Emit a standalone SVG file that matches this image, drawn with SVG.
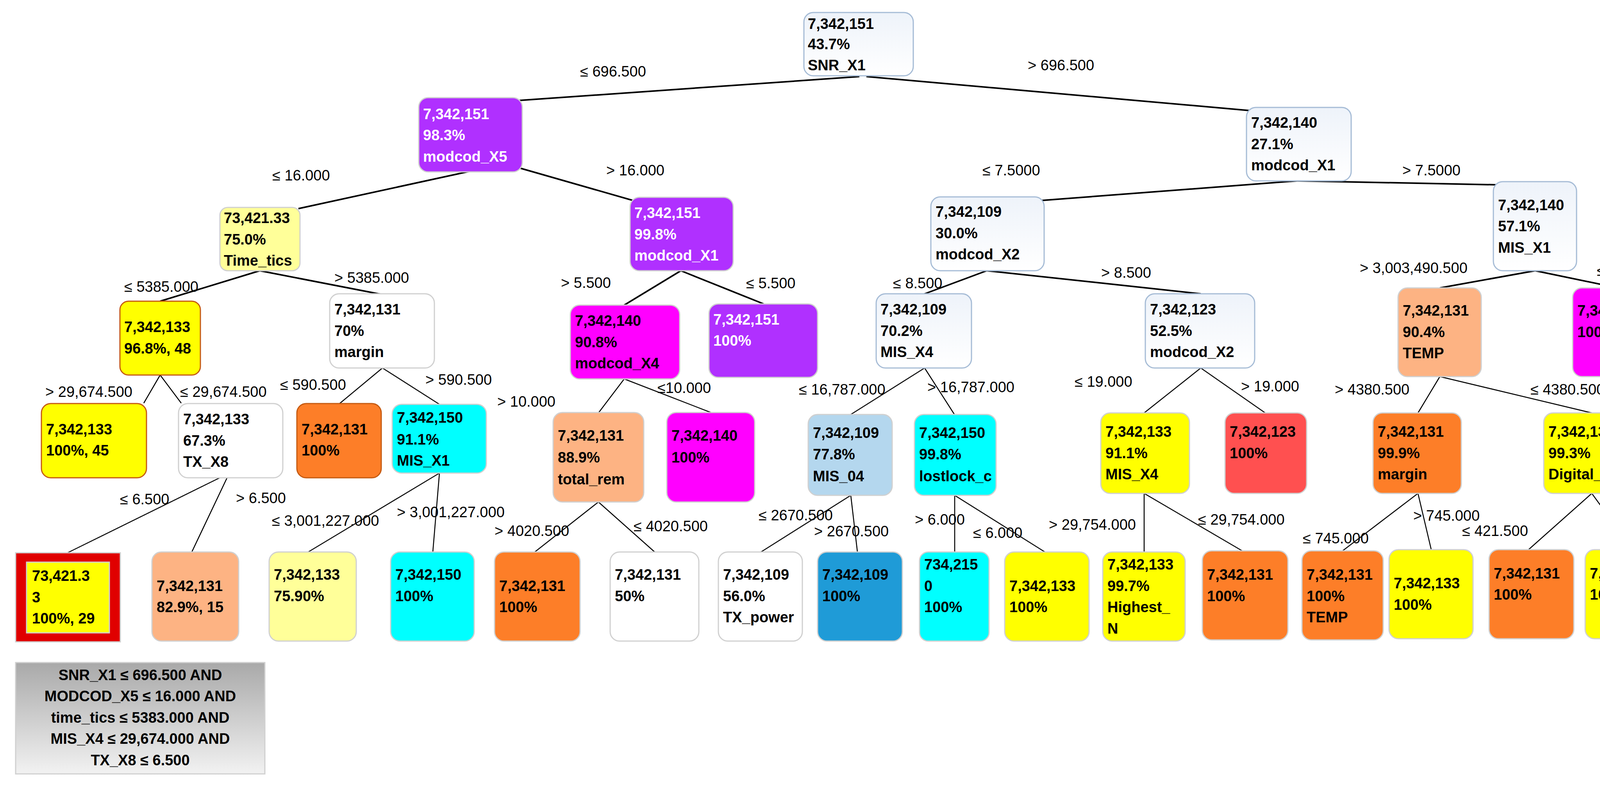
<svg xmlns="http://www.w3.org/2000/svg" width="4436" height="2012" viewBox="0 0 4436 2012">
<defs>
<linearGradient id="wg" x1="0" y1="0" x2="0" y2="1"><stop offset="0" stop-color="#eef3fa"/><stop offset="1" stop-color="#ffffff"/></linearGradient>
<linearGradient id="gg" x1="0" y1="0" x2="0" y2="1"><stop offset="0" stop-color="#a9a9a9"/><stop offset="1" stop-color="#f2f2f2"/></linearGradient>
</defs>
<style>
text{font-family:"Liberation Sans",Arial,sans-serif;font-size:38px;font-weight:bold;fill:#000}
.w text{fill:#fff}
rect{stroke:#d0d0d0;stroke-width:3}
.bl rect{fill:url(#wg);stroke:#a6bcd6}
.wh rect{fill:#fff}
.pu rect{fill:#b030ff}
.mg rect{fill:#ff00ff}
.ye rect{fill:#ffff00}
.yo rect{fill:#ffff00;stroke:#c55a11}
.ly rect{fill:#ffff99}
.pe rect{fill:#fdb383}
.or rect{fill:#fd7e28}
.oo rect{fill:#fd7e28;stroke:#c55a11}
.cy rect{fill:#00ffff}
.rd rect{fill:#ff5050}
.lb rect{fill:#b4d7ee}
.db rect{fill:#1f9bd7}
.e line{stroke:#000;stroke-width:4}
.e2 line{stroke:#000;stroke-width:2.5}
.lab text{font-weight:normal}
</style>
<g class="e">
<line x1="2200" y1="196" x2="1330" y2="257"/>
<line x1="2218" y1="196" x2="3199" y2="283"/>
<line x1="1205" y1="438" x2="764" y2="534"/>
<line x1="1330" y1="430" x2="1620" y2="513"/>
<line x1="665" y1="693" x2="410" y2="771"/>
<line x1="665" y1="693" x2="979" y2="754"/>
<line x1="1743" y1="693" x2="1598" y2="781"/>
<line x1="1743" y1="693" x2="1955" y2="778"/>
<line x1="3321" y1="463" x2="2668" y2="513"/>
<line x1="3321" y1="463" x2="3830" y2="473"/>
<line x1="2526" y1="693" x2="2362" y2="754"/>
<line x1="2526" y1="693" x2="3074" y2="752"/>
<line x1="3930" y1="693" x2="3686" y2="737"/>
<line x1="3930" y1="693" x2="4142" y2="737"/>
</g>
<g class="e2">
<line x1="410" y1="960" x2="368" y2="1032"/>
<line x1="410" y1="960" x2="464" y2="1032"/>
<line x1="979" y1="942" x2="867" y2="1035"/>
<line x1="979" y1="942" x2="1125" y2="1035"/>
<line x1="1598" y1="970" x2="1532" y2="1057"/>
<line x1="1598" y1="970" x2="1820" y2="1056"/>
<line x1="2367" y1="942" x2="2178" y2="1061"/>
<line x1="2367" y1="942" x2="2444" y2="1062"/>
<line x1="3074" y1="942" x2="2929" y2="1057"/>
<line x1="3074" y1="942" x2="3239" y2="1057"/>
<line x1="3686" y1="964" x2="3630" y2="1057"/>
<line x1="3686" y1="964" x2="4075" y2="1057"/>
<line x1="587" y1="1211" x2="173" y2="1415"/>
<line x1="587" y1="1211" x2="491" y2="1413"/>
<line x1="1125" y1="1211" x2="789" y2="1413"/>
<line x1="1125" y1="1211" x2="1108" y2="1413"/>
<line x1="1532" y1="1285" x2="1369" y2="1413"/>
<line x1="1532" y1="1285" x2="1676" y2="1413"/>
<line x1="2178" y1="1268" x2="1948" y2="1413"/>
<line x1="2178" y1="1268" x2="2195" y2="1413"/>
<line x1="2444" y1="1268" x2="2444" y2="1413"/>
<line x1="2444" y1="1268" x2="2675" y2="1413"/>
<line x1="2929" y1="1263" x2="2929" y2="1413"/>
<line x1="2929" y1="1263" x2="3180" y2="1410"/>
<line x1="3630" y1="1263" x2="3437" y2="1410"/>
<line x1="3630" y1="1263" x2="3664" y2="1407"/>
<line x1="4075" y1="1263" x2="3913" y2="1407"/>
<line x1="4075" y1="1263" x2="4180" y2="1407"/>
</g>
<g class="lab">
<text x="1485" y="196">≤ 696.500</text>
<text x="2631" y="180">&gt; 696.500</text>
<text x="697" y="462">≤ 16.000</text>
<text x="1552" y="449">&gt; 16.000</text>
<text x="2515" y="449">≤ 7.5000</text>
<text x="3590" y="449">&gt; 7.5000</text>
<text x="318" y="747">≤ 5385.000</text>
<text x="856" y="724">&gt; 5385.000</text>
<text x="1436" y="737">&gt; 5.500</text>
<text x="1910" y="738">≤ 5.500</text>
<text x="2286" y="738">≤  8.500</text>
<text x="2819" y="711">&gt; 8.500</text>
<text x="3481" y="699">&gt; 3,003,490.500</text>
<text x="4088" y="706">≤ 3,003,490.500</text>
<text x="116" y="1016">&gt; 29,674.500</text>
<text x="461" y="1016">≤ 29,674.500</text>
<text x="717" y="998">≤ 590.500</text>
<text x="1089" y="985">&gt; 590.500</text>
<text x="1273" y="1041">&gt; 10.000</text>
<text x="1683" y="1006">≤10.000</text>
<text x="2045" y="1010">≤  16,787.000</text>
<text x="2374" y="1004">&gt; 16,787.000</text>
<text x="2751" y="990">≤  19.000</text>
<text x="3177" y="1002">&gt; 19.000</text>
<text x="3417" y="1010">&gt; 4380.500</text>
<text x="3918" y="1010">≤ 4380.500</text>
<text x="307" y="1291">≤ 6.500</text>
<text x="604" y="1288">&gt; 6.500</text>
<text x="696" y="1346">≤ 3,001,227.000</text>
<text x="1016" y="1324">&gt; 3,001,227.000</text>
<text x="1266" y="1372">&gt; 4020.500</text>
<text x="1622" y="1360">≤  4020.500</text>
<text x="1942" y="1332">≤  2670.500</text>
<text x="2084" y="1373">&gt; 2670.500</text>
<text x="2342" y="1343">&gt; 6.000</text>
<text x="2491" y="1377">≤  6.000</text>
<text x="2685" y="1356">&gt; 29,754.000</text>
<text x="3067" y="1343">≤ 29,754.000</text>
<text x="3335" y="1391">≤ 745.000</text>
<text x="3618" y="1333">&gt; 745.000</text>
<text x="3743" y="1372">≤ 421.500</text>
<text x="4177" y="1330">&gt; 421.500</text>
</g>
<g id="root" class="bl"><rect x="2058" y="32" width="280" height="162" rx="24"/><text x="2068" y="74">7,342,151</text><text x="2068" y="126">43.7%</text><text x="2068" y="180">SNR_X1</text></g>
<g id="n1" class="pu w"><rect x="1072" y="250" width="265" height="190" rx="24"/><text x="1083" y="305">7,342,151</text><text x="1083" y="359">98.3%</text><text x="1083" y="414">modcod_X5</text></g>
<g id="n2" class="bl"><rect x="3191" y="275" width="268" height="188" rx="24"/><text x="3203" y="327">7,342,140</text><text x="3203" y="382">27.1%</text><text x="3203" y="436">modcod_X1</text></g>
<g id="n3" class="ly"><rect x="563" y="531" width="205" height="162" rx="20"/><text x="573" y="571">73,421.33</text><text x="573" y="626">75.0%</text><text x="573" y="680">Time_tics</text></g>
<g id="n4" class="pu w"><rect x="1613" y="505" width="264" height="188" rx="24"/><text x="1624" y="558">7,342,151</text><text x="1624" y="613">99.8%</text><text x="1624" y="667">modcod_X1</text></g>
<g id="n5" class="bl"><rect x="2383" y="504" width="290" height="189" rx="24"/><text x="2395" y="555">7,342,109</text><text x="2395" y="610">30.0%</text><text x="2395" y="664">modcod_X2</text></g>
<g id="n6" class="bl"><rect x="3823" y="465" width="213" height="228" rx="24"/><text x="3835" y="538">7,342,140</text><text x="3835" y="592">57.1%</text><text x="3835" y="647">MIS_X1</text></g>
<g id="n7" class="yo"><rect x="307" y="771" width="206" height="189" rx="22"/><text x="318" y="850">7,342,133</text><text x="318" y="905">96.8%, 48</text></g>
<g id="n8" class="wh"><rect x="844" y="752" width="268" height="190" rx="24"/><text x="856" y="805">7,342,131</text><text x="856" y="860">70%</text><text x="856" y="914">margin</text></g>
<g id="n9" class="mg"><rect x="1460" y="781" width="280" height="189" rx="24"/><text x="1472" y="834">7,342,140</text><text x="1472" y="889">90.8%</text><text x="1472" y="943">modcod_X4</text></g>
<g id="n10" class="pu w"><rect x="1815" y="778" width="278" height="188" rx="24"/><text x="1826" y="831">7,342,151</text><text x="1826" y="885">100%</text></g>
<g id="n11" class="bl"><rect x="2243" y="752" width="244" height="190" rx="24"/><text x="2254" y="805">7,342,109</text><text x="2254" y="860">70.2%</text><text x="2254" y="914">MIS_X4</text></g>
<g id="n12" class="bl"><rect x="2932" y="752" width="280" height="190" rx="24"/><text x="2944" y="805">7,342,123</text><text x="2944" y="860">52.5%</text><text x="2944" y="914">modcod_X2</text></g>
<g id="n13" class="pe"><rect x="3579" y="737" width="213" height="227" rx="24"/><text x="3591" y="808">7,342,131</text><text x="3591" y="863">90.4%</text><text x="3591" y="917">TEMP</text></g>
<g id="n14" class="mg"><rect x="4026" y="737" width="226" height="227" rx="24"/><text x="4038" y="808">7,342,140</text><text x="4038" y="863">100%</text></g>
<g id="n15" class="yo"><rect x="106" y="1033" width="269" height="190" rx="24"/><text x="118" y="1112">7,342,133</text><text x="118" y="1166">100%, 45</text></g>
<g id="n16" class="wh"><rect x="457" y="1033" width="267" height="190" rx="24"/><text x="469" y="1086">7,342,133</text><text x="469" y="1141">67.3%</text><text x="469" y="1195">TX_X8</text></g>
<g id="n17" class="oo"><rect x="760" y="1033" width="216" height="190" rx="24"/><text x="772" y="1112">7,342,131</text><text x="772" y="1166">100%</text></g>
<g id="n18" class="cy"><rect x="1004" y="1035" width="241" height="176" rx="24"/><text x="1016" y="1082">7,342,150</text><text x="1016" y="1138">91.1%</text><text x="1016" y="1192">MIS_X1</text></g>
<g id="n19" class="pe"><rect x="1416" y="1056" width="232" height="229" rx="24"/><text x="1428" y="1128">7,342,131</text><text x="1428" y="1184">88.9%</text><text x="1428" y="1240">total_rem</text></g>
<g id="n20" class="mg"><rect x="1707" y="1056" width="225" height="229" rx="24"/><text x="1719" y="1128">7,342,140</text><text x="1719" y="1184">100%</text></g>
<g id="n21" class="lb"><rect x="2069" y="1061" width="215" height="207" rx="24"/><text x="2081" y="1121">7,342,109</text><text x="2081" y="1176">77.8%</text><text x="2081" y="1232">MIS_04</text></g>
<g id="n22" class="cy"><rect x="2341" y="1061" width="209" height="207" rx="24"/><text x="2353" y="1121">7,342,150</text><text x="2353" y="1176">99.8%</text><text x="2353" y="1232">lostlock_c</text></g>
<g id="n23" class="ye"><rect x="2818" y="1057" width="227" height="206" rx="24"/><text x="2830" y="1118">7,342,133</text><text x="2830" y="1173">91.1%</text><text x="2830" y="1227">MIS_X4</text></g>
<g id="n24" class="rd"><rect x="3136" y="1057" width="209" height="206" rx="24"/><text x="3148" y="1118">7,342,123</text><text x="3148" y="1173">100%</text></g>
<g id="n25" class="or"><rect x="3515" y="1057" width="226" height="206" rx="24"/><text x="3527" y="1118">7,342,131</text><text x="3527" y="1173">99.9%</text><text x="3527" y="1227">margin</text></g>
<g id="n26" class="ye"><rect x="3952" y="1057" width="242" height="206" rx="24"/><text x="3964" y="1118">7,342,133</text><text x="3964" y="1173">99.3%</text><text x="3964" y="1227">Digital_rx</text></g>
<g id="n27"><rect x="40" y="1415" width="268" height="228" fill="#e00000" stroke="#e00000"/><rect x="68" y="1439" width="212" height="181" fill="#ffff00" stroke="#f0e0a0"/><text x="82" y="1487">73,421.3</text><text x="82" y="1542">3</text><text x="82" y="1596">100%, 29</text></g>
<g id="n28" class="pe"><rect x="389" y="1413" width="222" height="228" rx="24"/><text x="401" y="1513">7,342,131</text><text x="401" y="1567">82.9%, 15</text></g>
<g id="n29" class="ly"><rect x="689" y="1413" width="223" height="228" rx="24"/><text x="701" y="1484">7,342,133</text><text x="701" y="1539">75.90%</text></g>
<g id="n30" class="cy"><rect x="1000" y="1413" width="214" height="228" rx="24"/><text x="1012" y="1484">7,342,150</text><text x="1012" y="1539">100%</text></g>
<g id="n31" class="or"><rect x="1266" y="1413" width="219" height="228" rx="24"/><text x="1278" y="1513">7,342,131</text><text x="1278" y="1567">100%</text></g>
<g id="n32" class="wh"><rect x="1562" y="1413" width="227" height="228" rx="24"/><text x="1574" y="1484">7,342,131</text><text x="1574" y="1539">50%</text></g>
<g id="n33" class="wh"><rect x="1839" y="1413" width="215" height="228" rx="24"/><text x="1851" y="1484">7,342,109</text><text x="1851" y="1539">56.0%</text><text x="1851" y="1593">TX_power</text></g>
<g id="n34" class="db"><rect x="2093" y="1413" width="217" height="228" rx="24"/><text x="2105" y="1484">7,342,109</text><text x="2105" y="1539">100%</text></g>
<g id="n35" class="cy"><rect x="2354" y="1413" width="178" height="228" rx="22"/><text x="2366" y="1458">734,215</text><text x="2366" y="1513">0</text><text x="2366" y="1567">100%</text></g>
<g id="n36" class="ye"><rect x="2572" y="1413" width="216" height="228" rx="24"/><text x="2584" y="1513">7,342,133</text><text x="2584" y="1567">100%</text></g>
<g id="n37" class="ye"><rect x="2823" y="1413" width="211" height="228" rx="24"/><text x="2835" y="1458">7,342,133</text><text x="2835" y="1513">99.7%</text><text x="2835" y="1567">Highest_</text><text x="2835" y="1622">N</text></g>
<g id="n38" class="or"><rect x="3078" y="1410" width="219" height="228" rx="24"/><text x="3090" y="1484">7,342,131</text><text x="3090" y="1539">100%</text></g>
<g id="n39" class="or"><rect x="3333" y="1410" width="208" height="228" rx="24"/><text x="3345" y="1484">7,342,131</text><text x="3345" y="1539">100%</text><text x="3345" y="1593">TEMP</text></g>
<g id="n40" class="ye"><rect x="3556" y="1407" width="215" height="228" rx="24"/><text x="3568" y="1506">7,342,133</text><text x="3568" y="1561">100%</text></g>
<g id="n41" class="or"><rect x="3812" y="1407" width="217" height="228" rx="24"/><text x="3824" y="1481">7,342,131</text><text x="3824" y="1535">100%</text></g>
<g id="n42" class="ye"><rect x="4058" y="1407" width="239" height="228" rx="24"/><text x="4070" y="1481">7,342,133</text><text x="4070" y="1535">100%</text></g>
<g id="legend"><rect x="40" y="1696" width="638" height="285" fill="url(#gg)" stroke="#c8c8c8"/>
<g text-anchor="middle"><text x="359" y="1741">SNR_X1 ≤  696.500 AND</text><text x="359" y="1795">MODCOD_X5 ≤  16.000 AND</text><text x="359" y="1850">time_tics  ≤ 5383.000 AND</text><text x="359" y="1904">MIS_X4 ≤  29,674.000 AND</text><text x="359" y="1959">TX_X8 ≤ 6.500</text></g></g>
</svg>
